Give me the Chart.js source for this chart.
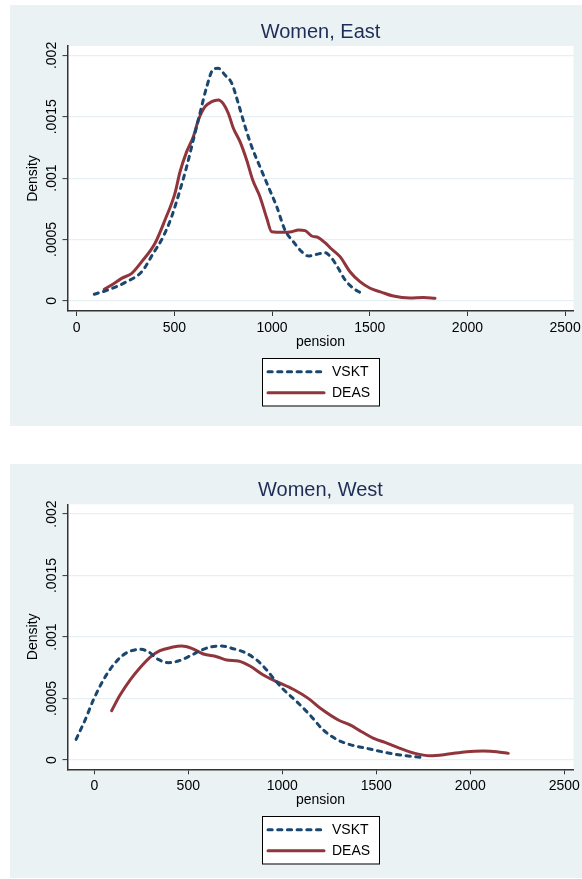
<!DOCTYPE html>
<html>
<head>
<meta charset="utf-8">
<script src="https://cdn.jsdelivr.net/npm/chart.js@4.4.1/dist/chart.umd.min.js"></script>
<style>
html, body { margin: 0; padding: 0; background: #fff; }
.panel { position: absolute; left: 10px; width: 572px; }
#east { top: 5px; height: 421px; }
#west { top: 464px; height: 414px; }
</style>
</head>
<body>
<div class="panel" id="east"><canvas id="eastChart"></canvas></div>
<div class="panel" id="west"><canvas id="westChart"></canvas></div>
<script>
// values
const seriesNames = ['VSKT', 'DEAS'];
const xTicks = [0, 500, 1000, 1500, 2000, 2500];
const yTicks = [0, 0.0005, 0.001, 0.0015, 0.002];
const yTickLabels = ['0', '.0005', '.001', '.0015', '.002'];

const eastVsktX = [90, 170, 256, 333, 392, 443, 486, 529, 563, 597, 631, 666, 699, 725, 759, 794, 827, 862, 896, 938, 981, 1024, 1066, 1109, 1152, 1186, 1229, 1271, 1306, 1339, 1374, 1416, 1459];
const eastVsktY = [0.000053, 0.000094, 0.000156, 0.000237, 0.000387, 0.000523, 0.000686, 0.000903, 0.001093, 0.001311, 0.001529, 0.001746, 0.001887, 0.001895, 0.00184, 0.001773, 0.00161, 0.00142, 0.001256, 0.001093, 0.00093, 0.000767, 0.000577, 0.000482, 0.0004, 0.000365, 0.000379, 0.000392, 0.000346, 0.000265, 0.00017, 0.000102, 0.000061];
const eastDeasX = [141, 187, 230, 282, 333, 401, 452, 503, 529, 563, 597, 623, 657, 691, 725, 751, 776, 802, 836, 870, 901, 938, 973, 998, 1058, 1101, 1135, 1169, 1203, 1237, 1271, 1306, 1348, 1399, 1450, 1502, 1562, 1621, 1706, 1775, 1834];
const eastDeasY = [0.000094, 0.000137, 0.000183, 0.000224, 0.000319, 0.000469, 0.000659, 0.000876, 0.001052, 0.001216, 0.001338, 0.001474, 0.001582, 0.001623, 0.001637, 0.001605, 0.001529, 0.001407, 0.001297, 0.001148, 0.000985, 0.000849, 0.000673, 0.000563, 0.000558, 0.000563, 0.000577, 0.000572, 0.000528, 0.000515, 0.000474, 0.00042, 0.00036, 0.000237, 0.000156, 0.000102, 0.000069, 0.000039, 0.000023, 0.000026, 0.00002];

const westVsktX = [-97, -49, -5, 48, 101, 154, 199, 243, 287, 340, 394, 447, 509, 571, 624, 678, 739, 802, 864, 917, 961, 1005, 1077, 1147, 1218, 1289, 1360, 1449, 1537, 1626, 1732];
const westVsktY = [0.000168, 0.000325, 0.000488, 0.00065, 0.000772, 0.000854, 0.000889, 0.0009, 0.000881, 0.000818, 0.000791, 0.000805, 0.000846, 0.000894, 0.000921, 0.000927, 0.000905, 0.000873, 0.000813, 0.000732, 0.00065, 0.000575, 0.000474, 0.000366, 0.000244, 0.000168, 0.000125, 0.000095, 0.000065, 0.000041, 0.000022];
const westDeasX = [92, 137, 190, 243, 296, 349, 412, 465, 518, 580, 651, 704, 766, 828, 899, 970, 1058, 1138, 1210, 1298, 1360, 1422, 1493, 1546, 1626, 1706, 1786, 1874, 1981, 2069, 2140, 2202];
const westDeasY = [0.000401, 0.000528, 0.00065, 0.00075, 0.000835, 0.000889, 0.000916, 0.000927, 0.000908, 0.000862, 0.00084, 0.000813, 0.000805, 0.000764, 0.000691, 0.000637, 0.000575, 0.000501, 0.000412, 0.000325, 0.000285, 0.00023, 0.000171, 0.000144, 0.000095, 0.000054, 0.000035, 0.000046, 0.000068, 0.000073, 0.000068, 0.000054];

const FONT = '"Liberation Sans", Arial, Helvetica, sans-serif';

function toPoints(xs, ys) {
    return xs.map((x, i) => ({ x: x, y: ys[i] }));
}

// background, plot region and all the Stata-style text
const stataLook = {
    id: 'stataLook',
    beforeDraw(chart) {
        const { ctx, chartArea: a, width, height } = chart;
        ctx.save();
        ctx.fillStyle = '#eaf2f3';
        ctx.fillRect(0, 0, width, height);
        ctx.fillStyle = '#ffffff';
        ctx.fillRect(a.left, a.top, a.right - a.left, a.bottom - a.top);
        ctx.restore();
    },
    afterDraw(chart, args, opts) {
        const { ctx, chartArea: a } = chart;
        const xs = chart.scales.x, ys = chart.scales.y;
        const cx = (a.left + a.right) / 2;
        ctx.save();
        ctx.textAlign = 'center';
        ctx.textBaseline = 'middle';

        ctx.fillStyle = '#1e2d57';
        ctx.font = '20px ' + FONT;
        ctx.fillText(opts.title, cx, a.top - 14);

        ctx.fillStyle = '#000';
        ctx.font = '14px ' + FONT;
        xTicks.forEach(v => ctx.fillText(String(v), xs.getPixelForValue(v), a.bottom + 17.3));
        yTicks.forEach((v, i) => {
            ctx.save();
            ctx.translate(a.left - 15.5, ys.getPixelForValue(v));
            ctx.rotate(-Math.PI / 2);
            ctx.fillText(yTickLabels[i], 0, 0);
            ctx.restore();
        });

        ctx.fillText('pension', cx, a.bottom + 31.3);
        ctx.save();
        ctx.translate(a.left - 34.5, (a.top + a.bottom) / 2);
        ctx.rotate(-Math.PI / 2);
        ctx.fillText('Density', 0, 0);
        ctx.restore();

        // legend box
        const bw = 117, bh = 47.5;
        const bx = Math.round(cx - bw / 2), by = Math.round(a.bottom + 47);
        ctx.fillStyle = '#fff';
        ctx.fillRect(bx, by, bw, bh);
        ctx.strokeStyle = '#000';
        ctx.lineWidth = 1;
        ctx.strokeRect(bx + 0.5, by + 0.5, bw, bh);
        chart.data.datasets.forEach((ds, i) => {
            const ly = by + 13.7 + i * 21;
            ctx.save();
            ctx.strokeStyle = ds.borderColor;
            ctx.lineWidth = ds.borderWidth;
            ctx.lineCap = ds.borderCapStyle || 'butt';
            ctx.setLineDash(ds.borderDash || []);
            ctx.beginPath();
            ctx.moveTo(bx + 6, ly);
            ctx.lineTo(bx + 62, ly);
            ctx.stroke();
            ctx.restore();
            ctx.fillStyle = '#000';
            ctx.textAlign = 'left';
            ctx.fillText(ds.label, bx + 70, ly);
        });
        ctx.restore();
    }
};

function makePanel(id, title, vX, vY, dX, dY, xMin, xMax, yMin, yMax, padTop, xHeight) {
    const ctx = document.getElementById(id).getContext('2d');
    return new Chart(ctx, {
        type: 'line',
        data: {
            datasets: [{
                label: seriesNames[0],
                data: toPoints(vX, vY),
                borderColor: '#1a476f',
                borderWidth: 3,
                borderDash: [4.2, 5.5],
                borderCapStyle: 'round',
                pointRadius: 0,
                cubicInterpolationMode: 'monotone',
                fill: false
            }, {
                label: seriesNames[1],
                data: toPoints(dX, dY),
                borderColor: '#90353b',
                borderWidth: 3,
                borderCapStyle: 'round',
                pointRadius: 0,
                cubicInterpolationMode: 'monotone',
                fill: false
            }]
        },
        options: {
            responsive: true,
            maintainAspectRatio: false,
            animation: false,
            layout: { padding: { left: 0, right: 8.5, top: padTop, bottom: 0 } },
            plugins: {
                legend: { display: false },
                tooltip: { enabled: false },
                stataLook: { title: title }
            },
            scales: {
                x: {
                    type: 'linear',
                    min: xMin,
                    max: xMax,
                    afterBuildTicks: s => { s.ticks = xTicks.map(v => ({ value: v })); },
                    afterFit: s => { s.height = xHeight; },
                    ticks: { display: false },
                    grid: { display: true, drawOnChartArea: false, drawTicks: true, tickLength: 5, tickColor: '#333', tickWidth: 1 },
                    border: { display: true, color: '#333', width: 1.5 }
                },
                y: {
                    type: 'linear',
                    min: yMin,
                    max: yMax,
                    afterBuildTicks: s => { s.ticks = yTicks.map(v => ({ value: v })); },
                    afterFit: s => { s.width = 57.5; },
                    ticks: { display: false },
                    grid: { color: '#e6eff1', lineWidth: 1.2, drawTicks: true, tickLength: 5, tickColor: '#333', tickWidth: 1 },
                    border: { display: true, color: '#333', width: 1.5 }
                }
            }
        },
        plugins: [stataLook]
    });
}

makePanel('eastChart', 'Women, East', eastVsktX, eastVsktY, eastDeasX, eastDeasY, -47, 2543, -0.0000832, 0.002077, 41, 115);
makePanel('westChart', 'Women, West', westVsktX, westVsktY, westDeasX, westDeasY, -142.6, 2549, -0.0000756, 0.002079, 40.3, 108.7);
</script>
</body>
</html>
